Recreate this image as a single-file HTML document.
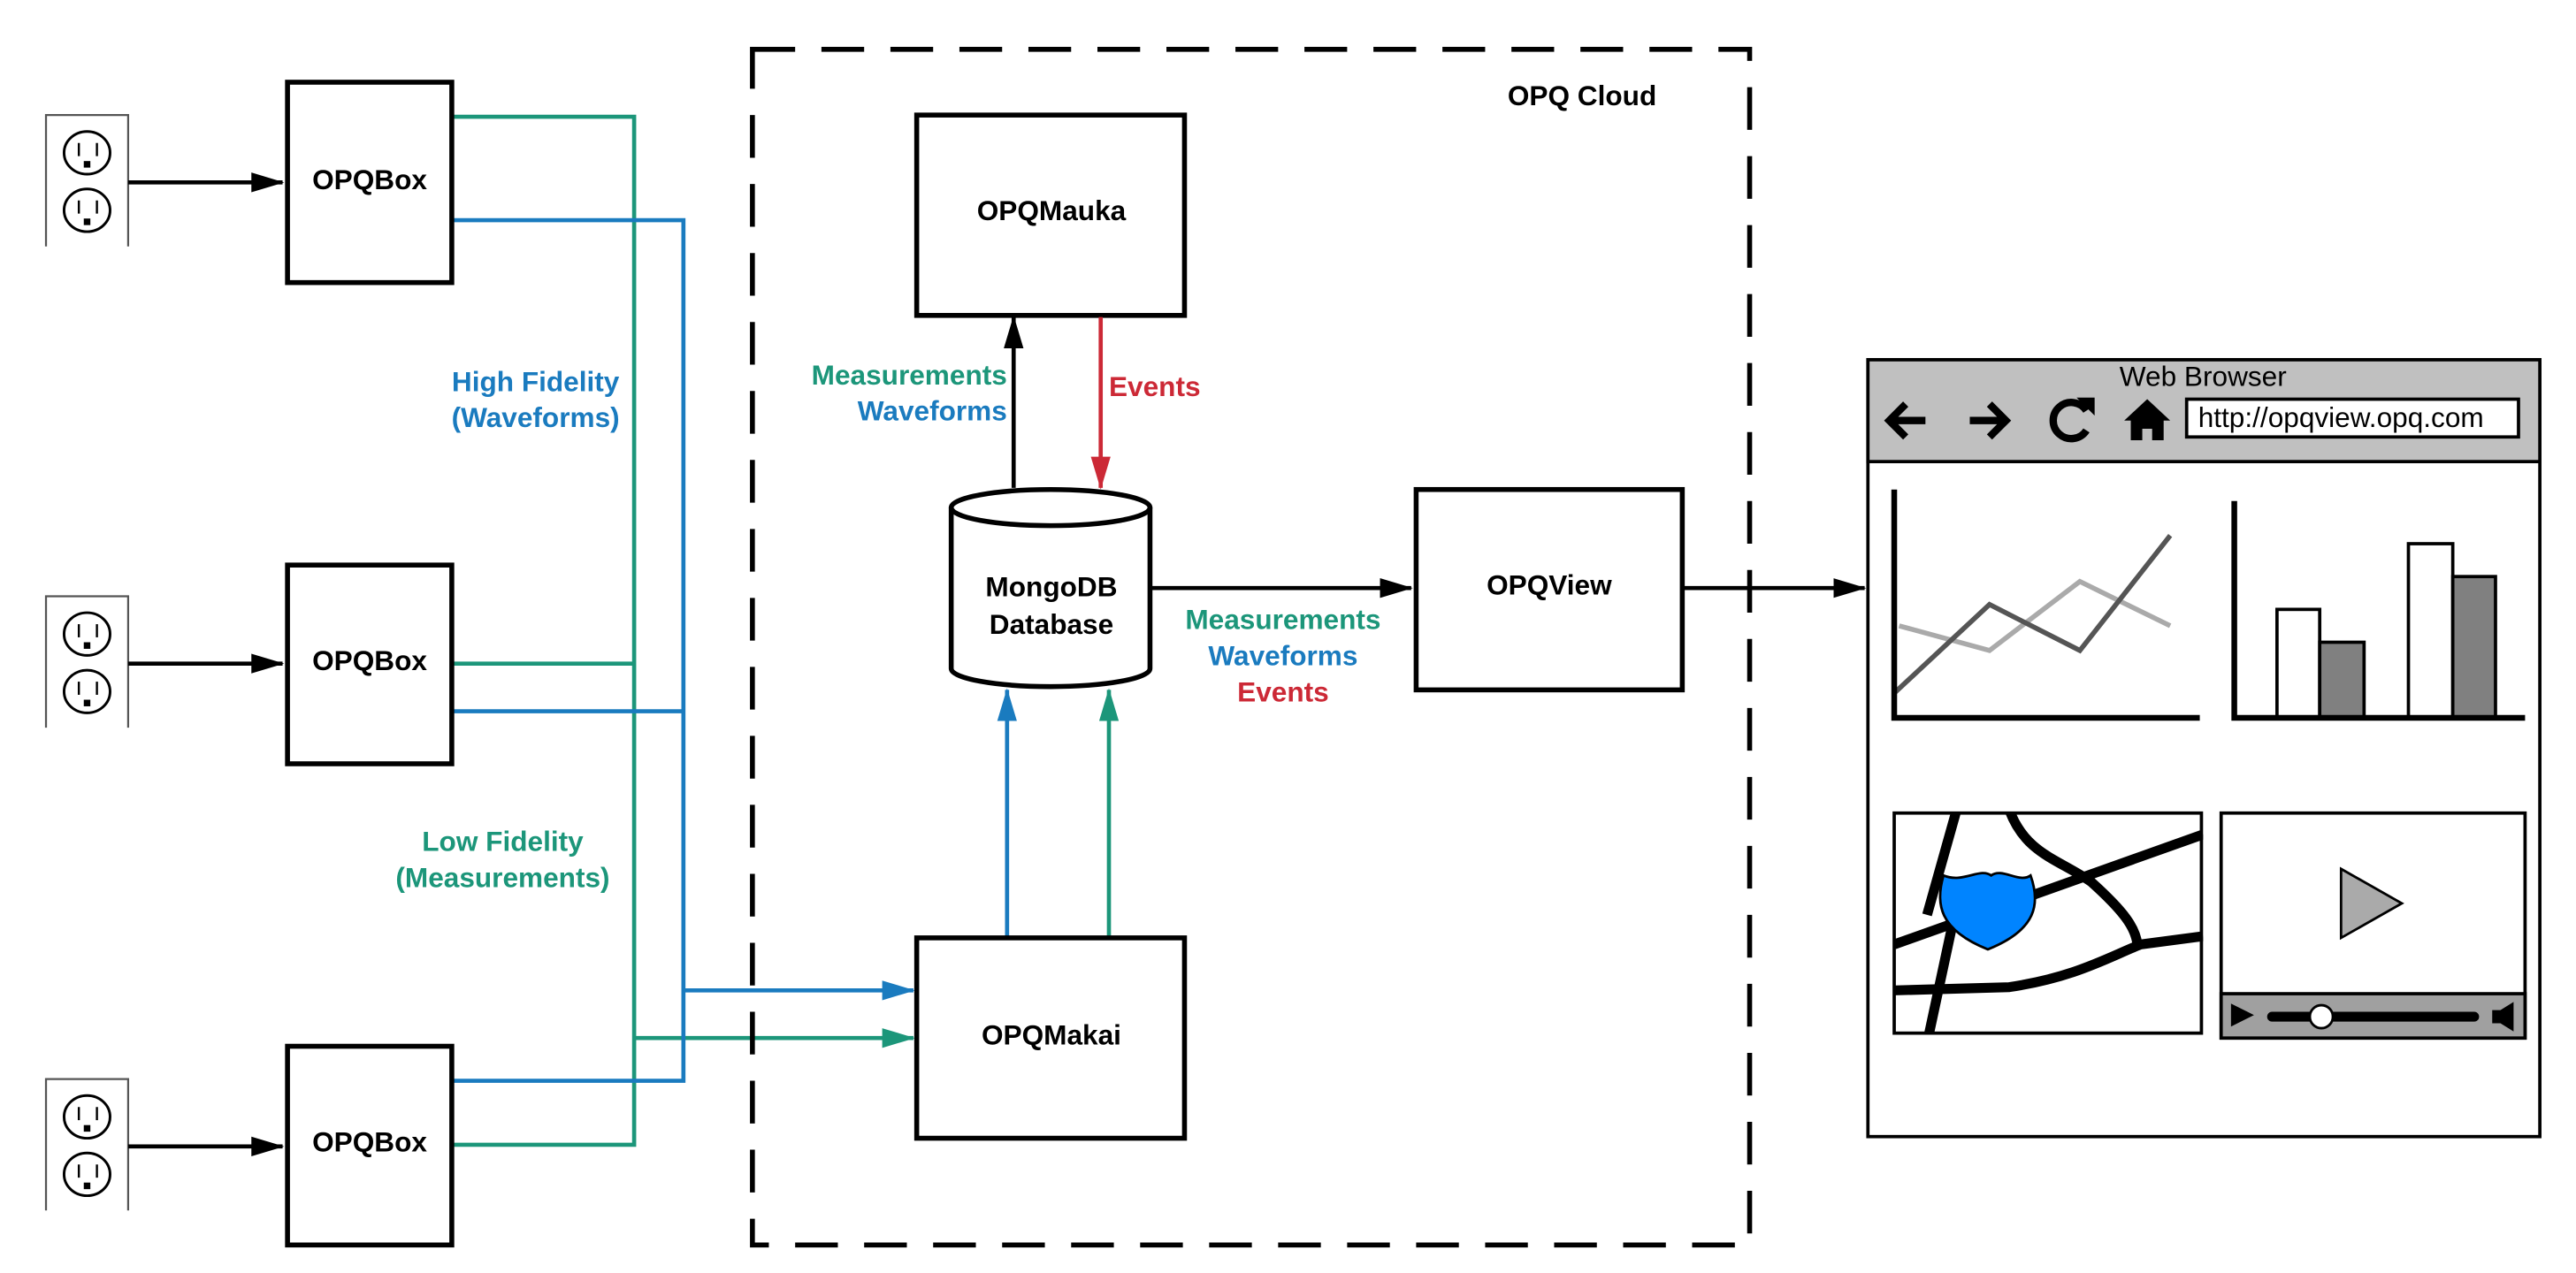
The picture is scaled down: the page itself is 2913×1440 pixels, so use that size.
<!DOCTYPE html>
<html><head><meta charset="utf-8"><style>
html,body{margin:0;padding:0;background:#fff;}
svg{display:block;}
text{font-family:"Liberation Sans",Arial,sans-serif;}
.b{font-weight:bold;font-size:17px;}
</style></head><body>
<svg width="2913" height="1440" viewBox="0 0 1568 775" xmlns="http://www.w3.org/2000/svg">
<defs>
<marker id="ak" markerWidth="10" markerHeight="10" refX="9" refY="5" orient="auto" markerUnits="userSpaceOnUse"><path d="M0,0 L10,5 L0,10 z" fill="#000" transform="scale(1)"/></marker>
<marker id="ab" markerWidth="20" markerHeight="12" refX="19" refY="6" orient="auto" markerUnits="userSpaceOnUse"><path d="M0,0 L20,6 L0,12 z" fill="#000"/></marker>
<marker id="abl" markerWidth="20" markerHeight="12" refX="19" refY="6" orient="auto" markerUnits="userSpaceOnUse"><path d="M0,0 L20,6 L0,12 z" fill="#1a7bbf"/></marker>
<marker id="agr" markerWidth="20" markerHeight="12" refX="19" refY="6" orient="auto" markerUnits="userSpaceOnUse"><path d="M0,0 L20,6 L0,12 z" fill="#1c967a"/></marker>
<marker id="ard" markerWidth="20" markerHeight="12" refX="19" refY="6" orient="auto" markerUnits="userSpaceOnUse"><path d="M0,0 L20,6 L0,12 z" fill="#cc2936"/></marker>
<g id="outlet">
<path d="M28,150 V70 H78 V150" fill="none" stroke="#555" stroke-width="1.2"/>
<ellipse cx="53" cy="93" rx="14" ry="13" fill="#fff" stroke="#000" stroke-width="1.6"/>
<line x1="48" y1="87" x2="48" y2="95" stroke="#000" stroke-width="1.3"/><line x1="59" y1="87" x2="59" y2="95" stroke="#000" stroke-width="1.3"/>
<rect x="51" y="98" width="4" height="4" fill="#000"/>
<ellipse cx="53" cy="128" rx="14" ry="13" fill="#fff" stroke="#000" stroke-width="1.6"/>
<line x1="48" y1="122" x2="48" y2="130" stroke="#000" stroke-width="1.3"/><line x1="59" y1="122" x2="59" y2="130" stroke="#000" stroke-width="1.3"/>
<rect x="51" y="133" width="4" height="4" fill="#000"/>
</g>
</defs>

<use href="#outlet"/>
<use href="#outlet" y="293"/>
<use href="#outlet" y="587"/>

<g stroke="#000" stroke-width="2.5" fill="none">
<line x1="78" y1="111" x2="172" y2="111" marker-end="url(#ab)"/>
<line x1="78" y1="404" x2="172" y2="404" marker-end="url(#ab)"/>
<line x1="78" y1="698" x2="172" y2="698" marker-end="url(#ab)"/>
</g>

<!-- green lines -->
<g stroke="#1c967a" stroke-width="2.5" fill="none">
<polyline points="275,71 386,71 386,697 275,697"/>
<line x1="275" y1="404" x2="386" y2="404"/>
<line x1="386" y1="632" x2="556" y2="632" marker-end="url(#agr)"/>
<line x1="675" y1="571" x2="675" y2="420" marker-end="url(#agr)"/>
</g>
<g stroke="#1a7bbf" stroke-width="2.5" fill="none">
<polyline points="275,134 416,134 416,658 275,658"/>
<line x1="275" y1="433" x2="416" y2="433"/>
<line x1="416" y1="603" x2="556" y2="603" marker-end="url(#abl)"/>
<line x1="613" y1="571" x2="613" y2="420" marker-end="url(#abl)"/>
</g>

<g fill="#fff" stroke="#000" stroke-width="3">
<rect x="175" y="50" width="100" height="122"/>
<rect x="175" y="344" width="100" height="121"/>
<rect x="175" y="637" width="100" height="121"/>
<rect x="558" y="70" width="163" height="122"/>
<rect x="558" y="571" width="163" height="122"/>
<rect x="862" y="298" width="162" height="122"/>
</g>
<rect x="458" y="30" width="607" height="728" fill="none" stroke="#000" stroke-width="3" stroke-dasharray="26,16"/>

<g class="b" text-anchor="middle" fill="#000">
<text x="225" y="115">OPQBox</text>
<text x="225" y="408">OPQBox</text>
<text x="225" y="701">OPQBox</text>
<text x="640" y="134">OPQMauka</text>
<text x="640" y="636">OPQMakai</text>
<text x="943" y="362">OPQView</text>
<text x="963" y="64">OPQ Cloud</text>
</g>

<!-- cylinder -->
<path d="M579,309 V407 A60.5,11 0 0 0 700,407 V309" fill="#fff" stroke="#000" stroke-width="3"/>
<ellipse cx="639.5" cy="309" rx="60.5" ry="11" fill="#fff" stroke="#000" stroke-width="3"/>
<g class="b" text-anchor="middle"><text x="640" y="363">MongoDB</text><text x="640" y="386">Database</text></g>

<line x1="617" y1="297" x2="617" y2="193" stroke="#000" stroke-width="2.5" marker-end="url(#ab)"/>
<line x1="670" y1="193" x2="670" y2="297" stroke="#cc2936" stroke-width="2.5" marker-end="url(#ard)"/>
<line x1="701" y1="358" x2="859" y2="358" stroke="#000" stroke-width="2.5" marker-end="url(#ab)"/>
<line x1="1024" y1="358" x2="1135" y2="358" stroke="#000" stroke-width="2.5" marker-end="url(#ab)"/>

<g class="b">
<text x="326" y="238" text-anchor="middle" fill="#1a7bbf">High Fidelity</text>
<text x="326" y="260" text-anchor="middle" fill="#1a7bbf">(Waveforms)</text>
<text x="306" y="518" text-anchor="middle" fill="#1c967a">Low Fidelity</text>
<text x="306" y="540" text-anchor="middle" fill="#1c967a">(Measurements)</text>
<text x="613" y="234" text-anchor="end" fill="#1c967a">Measurements</text>
<text x="613" y="256" text-anchor="end" fill="#1a7bbf">Waveforms</text>
<text x="675" y="241" fill="#cc2936">Events</text>
<text x="781" y="383" text-anchor="middle" fill="#1c967a">Measurements</text>
<text x="781" y="405" text-anchor="middle" fill="#1a7bbf">Waveforms</text>
<text x="781" y="427" text-anchor="middle" fill="#cc2936">Events</text>
</g>

<!-- browser -->
<rect x="1137" y="219" width="409" height="473" fill="#fff" stroke="#000" stroke-width="2"/>
<rect x="1137" y="219" width="409" height="62" fill="#c0c0c0" stroke="#000" stroke-width="2"/>
<text x="1341" y="235" text-anchor="middle" font-size="17">Web Browser</text>
<rect x="1331" y="243" width="202" height="23" fill="#fff" stroke="#000" stroke-width="2"/>
<text x="1338" y="260" font-size="17">http://opqview.opq.com</text>
<g stroke="#000" stroke-width="4.5" fill="none">
<path d="M1172,256 H1150 M1160,246 L1150,256 L1160,266"/>
<path d="M1199,256 H1221 M1211,246 L1221,256 L1211,266"/>
<path d="M1270,250 A11,11 0 1 0 1270,262"/>
</g>
<path d="M1264,242 L1275,242 L1275,253 z" fill="#000"/>
<path d="M1293,256 L1307,243 L1321,256 L1317,256 L1317,268 L1310,268 L1310,261 L1304,261 L1304,268 L1297,268 L1297,256 z" fill="#000"/>

<!-- line chart -->
<polyline points="1156,381 1211,396 1266,354 1321,381" fill="none" stroke="#aaa" stroke-width="3"/>
<polyline points="1153,422 1211,368 1266,396 1321,326" fill="none" stroke="#555" stroke-width="3"/>
<polyline points="1153,298 1153,437 1339,437" fill="none" stroke="#000" stroke-width="3.5"/>
<!-- bar chart -->
<rect x="1386" y="371" width="26" height="66" fill="#fff" stroke="#000" stroke-width="2"/>
<rect x="1412" y="391" width="27" height="46" fill="#808080" stroke="#000" stroke-width="2"/>
<rect x="1466" y="331" width="27" height="106" fill="#fff" stroke="#000" stroke-width="2"/>
<rect x="1493" y="351" width="26" height="86" fill="#808080" stroke="#000" stroke-width="2"/>
<polyline points="1360,305 1360,437 1537,437" fill="none" stroke="#000" stroke-width="3.5"/>

<!-- map -->
<svg x="1153" y="495" width="188" height="135" viewBox="0 0 188 135" overflow="hidden">
<g stroke="#000" stroke-width="6" fill="none">
<path d="M0,80 L188,13"/>
<path d="M0,108 L70,106 C110,100 130,88 150,80 L188,75"/>
<path d="M38,-2 L20,62 M35,70 L20,140"/>
<path d="M70,-2 C80,25 100,28 120,42 C140,60 147,70 148,80"/>
</g>
</svg>
<path d="M1183,533 C1195,538 1205,528 1212,533 C1219,528 1229,538 1236,533 C1242,550 1240,566 1210,578 C1180,566 1178,550 1183,533 z" fill="#0084ff" stroke="#000" stroke-width="1.5"/>
<rect x="1153" y="495" width="187" height="134" fill="none" stroke="#000" stroke-width="2"/>
<!-- video -->
<rect x="1352" y="495" width="185" height="137" fill="#fff" stroke="#000" stroke-width="2"/>
<rect x="1352" y="605" width="185" height="27" fill="#a0a0a0" stroke="#000" stroke-width="2"/>
<path d="M1425,529 L1462,550 L1425,571 z" fill="#aaa" stroke="#000" stroke-width="1.5"/>
<path d="M1358,611 L1372,618 L1358,625 z" fill="#000"/>
<line x1="1383" y1="619" x2="1506" y2="619" stroke="#000" stroke-width="6" stroke-linecap="round"/>
<circle cx="1413" cy="619" r="7" fill="#fff" stroke="#000" stroke-width="1.5"/>
<path d="M1517,615 L1522,615 L1530,610 L1530,628 L1522,623 L1517,623 z" fill="#000"/>
</svg>
</body></html>
